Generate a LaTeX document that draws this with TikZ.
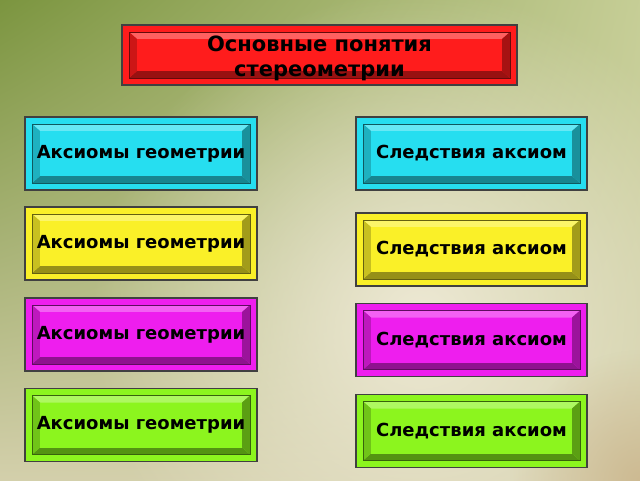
\documentclass[tikz,border=0pt]{standalone}
\usepackage{fontspec}
\setmainfont{DejaVu Sans}
\usetikzlibrary{calc, fadings, shadings}

\definecolor{BgOlive}{RGB}{122,148,62}
\definecolor{BgSage}{RGB}{198,206,150}
\definecolor{BgSand}{RGB}{212,208,172}
\definecolor{BgCream}{RGB}{238,233,213}
\definecolor{BgTan}{RGB}{205,186,146}
\definecolor{BoxRed}{RGB}{255,28,28}
\definecolor{BoxCyan}{RGB}{38,222,240}
\definecolor{BoxYellow}{RGB}{250,240,40}
\definecolor{BoxMagenta}{RGB}{238,30,238}
\definecolor{BoxGreen}{RGB}{140,245,30}

\tikzfading[name=glow, inner color=transparent!0, outer color=transparent!100]

\begin{document}
\begin{tikzpicture}[x=1pt,y=-1pt]
\tikzset{BoxStyle/.style = {draw=black!75, line width=1.2pt, fill=#1, align=center, inner sep=0pt,
    font=\bfseries\fontsize{18}{25}\selectfont,
    path picture={
      \coordinate (p) at (path picture bounding box.north west);
      \coordinate (q) at (path picture bounding box.south east);
      \coordinate (a1) at ($(p)+(7pt,-7pt)$);
      \coordinate (a3) at ($(q)+(-7pt,7pt)$);
      \coordinate (b1) at ($(p)+(15pt,-14pt)$);
      \coordinate (b3) at ($(q)+(-15pt,14pt)$);
      \fill[#1!70!white] (a1) -- (a1 -| a3) -- (b1 -| b3) -- (b1) -- cycle;
      \fill[#1!60!black] (a3 -| a1) -- (a3) -- (b3) -- (b3 -| b1) -- cycle;
      \fill[#1!80!black] (a1) -- (b1) -- (b3 -| b1) -- (a3 -| a1) -- cycle;
      \fill[#1!65!black] (a1 -| a3) -- (b1 -| b3) -- (b3) -- (a3) -- cycle;
      \fill[#1] (b1) rectangle (b3);
      \draw[#1!40!black, line width=0.8pt] (a1) rectangle (a3);
    }}
}

    % Background
    \useasboundingbox (0,0) rectangle (640,480);
    \shade[upper left=BgOlive, upper right=BgSage, lower left=BgSand, lower right=BgSand] (-4,-4) rectangle (644,484);
    \fill[BgCream, path fading=glow] (420,320) circle (330);
    \fill[BgTan, path fading=glow] (640,480) circle (130);

   \node[BoxStyle=BoxRed, minimum width=395pt, minimum height=60pt, font=\bfseries\fontsize{21}{25}\selectfont] (title) at (319.5,55) {\rule{0pt}{22pt}Основные понятия\\стереометрии};

   \node[BoxStyle=BoxCyan, minimum width=232pt, minimum height=73pt] (axiom1) at (141,153.5) {Аксиомы геометрии};
   \node[BoxStyle=BoxCyan, minimum width=231pt, minimum height=73pt] (corol1) at (471.5,153.5) {Следствия аксиом};

   \node[BoxStyle=BoxYellow, minimum width=232pt, minimum height=73pt] (axiom2) at (141,243.5) {Аксиомы геометрии};
   \node[BoxStyle=BoxYellow, minimum width=231pt, minimum height=73pt] (corol2) at (471.5,249.5) {Следствия аксиом};

   \node[BoxStyle=BoxMagenta, minimum width=232pt, minimum height=73pt] (axiom3) at (141,334.5) {Аксиомы геометрии};
   \node[BoxStyle=BoxMagenta, minimum width=231pt, minimum height=73pt] (corol3) at (471.5,340) {Следствия аксиом};

   \node[BoxStyle=BoxGreen, minimum width=232pt, minimum height=73pt] (axiom4) at (141,425) {Аксиомы геометрии};
   \node[BoxStyle=BoxGreen, minimum width=231pt, minimum height=73pt] (corol4) at (471.5,431) {Следствия аксиом};
\end{tikzpicture}
\end{document}
